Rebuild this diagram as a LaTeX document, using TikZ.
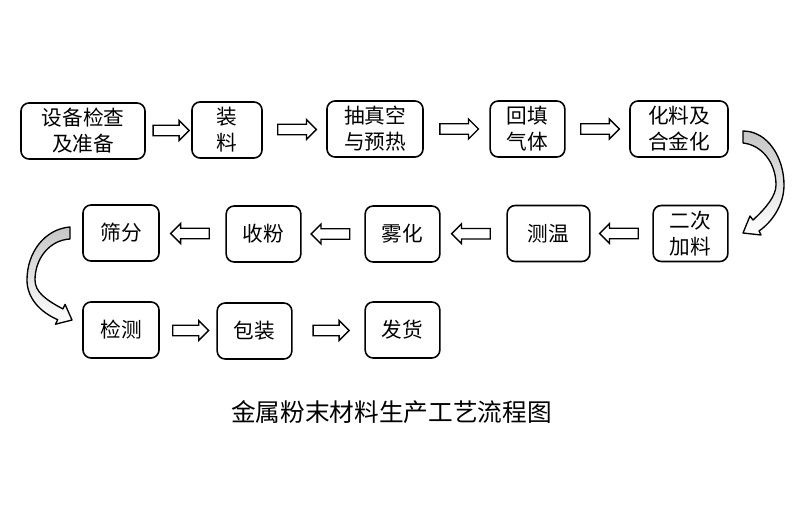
\documentclass[tikz,border=0pt]{standalone}
\usepackage{amsmath}
\usepackage{fontspec}
\newfontfamily\cjk{Noto Sans CJK SC}
\usetikzlibrary{shapes.arrows,calc}

\tikzset{
  stepbox/.style={draw, line width=1.2pt, rounded corners=6pt, align=center, inner sep=0pt,
    font=\cjk\fontsize{15.5}{19.5}\selectfont, minimum height=42pt, minimum width=56pt},
  flowarrow/.style={single arrow, draw, line width=1pt, fill=white, inner xsep=0pt, inner ysep=3.4pt,
    minimum height=29pt, single arrow head extend=3.6pt},
  backarrow/.style={flowarrow, shape border rotate=180},
  bendarrow/.style={draw, line width=1pt, line join=round, top color=gray!45, bottom color=white},
}

\begin{document}
\begin{tikzpicture}[x=0.75pt,y=0.75pt,yscale=-1,xscale=1]
\useasboundingbox (0,0) rectangle (800,518);

% Row 1
\node[stepbox, minimum width=93pt] (check) at (83,131) {设备检查\\及准备};
\node[stepbox, minimum width=52.5pt] (load) at (227,130) {装\\料};
\node[stepbox, minimum width=72pt] (vacuum) at (375,129) {抽真空\\与预热};
\node[stepbox] (gas) at (527.5,129) {回填\\气体};
\node[stepbox, minimum width=73.5pt] (melt) at (679,129) {化料及\\合金化};

% Row 2
\node[stepbox] (refeed) at (690.5,233.5) {二次\\加料};
\node[stepbox, minimum width=62pt] (temp) at (548.5,233.5) {测温};
\node[stepbox] (atomize) at (402.5,234) {雾化};
\node[stepbox] (collect) at (263.5,234) {收粉};
\node[stepbox, minimum width=57pt] (sieve) at (121,233) {筛分};

% Row 3
\node[stepbox, minimum width=57pt] (inspect) at (121,330) {检测};
\node[stepbox] (pack) at (254.5,331) {包装};
\node[stepbox] (ship) at (402.5,330) {发货};

% Block arrows
\node[flowarrow, minimum height=27pt] (a1) at ($(check.east)!0.5!(load.west)$) {};
\node[flowarrow] (a2) at ($(load.east)!0.5!(vacuum.west)$) {};
\node[flowarrow] (a3) at ($(vacuum.east)!0.5!(gas.west)$) {};
\node[flowarrow] (a4) at ($(gas.east)!0.5!(melt.west)$) {};
\node[backarrow] (a5) at ($(refeed.west)!0.5!(temp.east)$) {};
\node[backarrow] (a6) at ($(temp.west)!0.5!(atomize.east)$) {};
\node[backarrow] (a7) at ($(atomize.west)!0.5!(collect.east)$) {};
\node[backarrow] (a8) at ($(collect.west)!0.5!(sieve.east)$) {};
\node[flowarrow, minimum height=27pt] (a9) at ($(inspect.east)!0.5!(pack.west)$) {};
\node[flowarrow, minimum height=27pt] (a10) at ($(pack.east)!0.5!(ship.west)$) {};

% Curved arrow right
\draw[bendarrow] (743,131) .. controls (768,131) and (784,158) .. (784,185) .. controls (784,205) and (772,222) .. (759,231) -- (761,235) -- (743,233) -- (750,216) -- (753,220) .. controls (766,208) and (776,196) .. (776,185) .. controls (776,163) and (762,145) .. (743,143) -- cycle;

% Curved arrow left
\draw[bendarrow] (70,227) .. controls (45,229) and (27,252) .. (27,280) .. controls (27,298) and (40,312) .. (57.7,319.7) -- (55.5,324.2) -- (72,320) -- (65.1,304.4) -- (62.9,308.9) .. controls (46,300) and (35,292) .. (35,280) .. controls (35,258) and (50,240) .. (70,239) -- cycle;

% Title
\node[font=\cjk\fontsize{18.5}{22}\selectfont] (title) at (391.5,412) {金属粉末材料生产工艺流程图};

\end{tikzpicture}
\end{document}
